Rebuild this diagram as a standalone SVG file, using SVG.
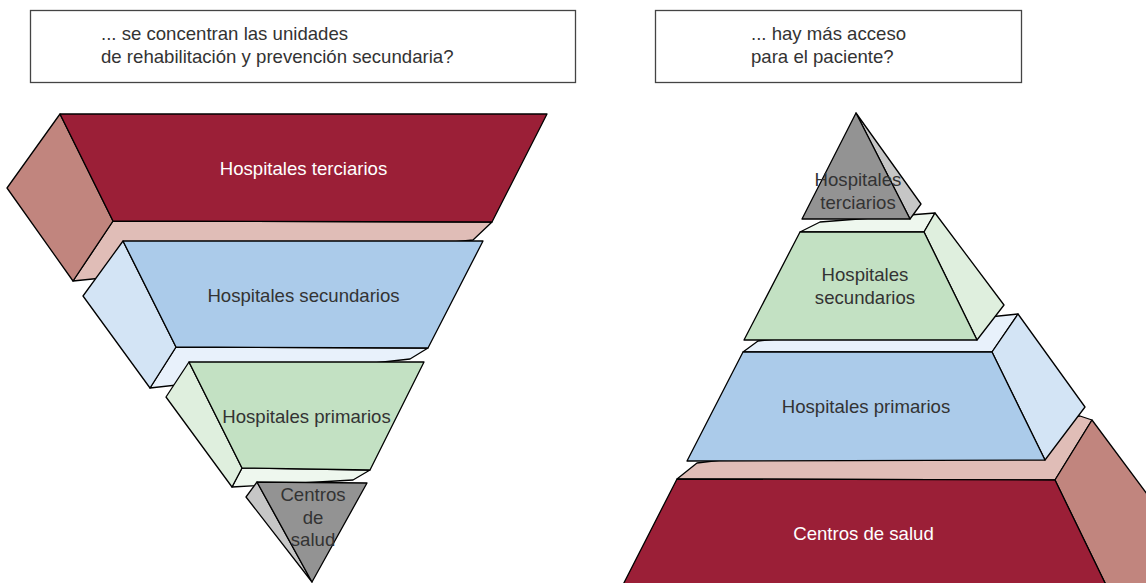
<svg xmlns="http://www.w3.org/2000/svg" width="1146" height="583" viewBox="0 0 1146 583">
  <style>
    .f { stroke: #000; stroke-width: 1.3; stroke-linejoin: round; }
    .red { fill: #9b1f37; }
    .redSide { fill: #c1857e; }
    .redCap { fill: #e0bdb7; }
    .blue { fill: #abcbea; }
    .blueSide { fill: #d3e4f5; }
    .blueCap { fill: #e8f1fb; }
    .green { fill: #c3e1c3; }
    .greenSide { fill: #dfefde; }
    .greenCap { fill: #eef7ee; }
    .gray { fill: #939393; }
    .graySide { fill: #c6c6c6; }
    .box { fill: #fff; stroke: #444; stroke-width: 1.3; }
    text { font-family: "Liberation Sans", Arial, sans-serif; font-size: 18.6px; fill: #333; }
    .c { text-anchor: middle; }
    .w { fill: #fff; }
  </style>

  <!-- question boxes -->
  <g id="q-left">
    <rect class="box" x="30.5" y="10.5" width="545" height="72"/>
    <text x="101" y="40">... se concentran las unidades</text>
    <text x="101" y="62.5">de rehabilitación y prevención secundaria?</text>
  </g>
  <g id="q-right">
    <rect class="box" x="655.5" y="10.5" width="366" height="72"/>
    <text x="751" y="40">... hay más acceso</text>
    <text x="751" y="62.5">para el paciente?</text>
  </g>

  <!-- inverted pyramid -->
  <g id="inv-terciarios">
    <polygon class="f redCap" points="113,221 492,222 473,240 73,281"/>
    <polygon class="f redSide" points="60,114 7,188 73,281 113,221"/>
    <polygon class="f red" points="60,114 547,114 492,222 113,221"/>
    <text class="c w" x="303.5" y="175">Hospitales terciarios</text>
  </g>
  <g id="inv-secundarios">
    <polygon class="f blueCap" points="176,347 428,348 410,359 150,388"/>
    <polygon class="f blueSide" points="123,241 83,296 150,388 176,347"/>
    <polygon class="f blue" points="123,241 483,241 428,348 176,347"/>
    <text class="c" x="303.5" y="301.5">Hospitales secundarios</text>
  </g>
  <g id="inv-primarios">
    <polygon class="f greenCap" points="242,468 370,470 353,480 232,487"/>
    <polygon class="f greenSide" points="189,362 166,397 232,487 242,468"/>
    <polygon class="f green" points="189,362 424,362 370,470 242,468"/>
    <text class="c" x="306.5" y="423">Hospitales primarios</text>
  </g>
  <g id="inv-centros">
    <polygon class="f graySide" points="257,482 246,497 312,582"/>
    <polygon class="f gray" points="257,482 367,483 312,582"/>
    <text class="c" x="313" y="501">Centros</text>
    <text class="c" x="313" y="523.5">de</text>
    <text class="c" x="313" y="546">salud</text>
  </g>

  <!-- upright pyramid -->
  <g id="pyr-centros">
    <polygon class="f redCap" points="677,479 697,463 1080,416 1092,420 1055,480"/>
    <polygon class="f redSide" points="1055,480 1092,420 1196,560 1196,620 1123,620"/>
    <polygon class="f red" points="677,479 1055,480 1123,620 605,620"/>
    <text class="c w" x="863.5" y="539.5">Centros de salud</text>
  </g>
  <g id="pyr-primarios">
    <polygon class="f blueCap" points="743,352 758,341 1018,314 992,352"/>
    <polygon class="f blueSide" points="992,352 1018,314 1085,407 1045,460"/>
    <polygon class="f blue" points="743,352 992,352 1045,460 687,461"/>
    <text class="c" x="866" y="413">Hospitales primarios</text>
  </g>
  <g id="pyr-secundarios">
    <polygon class="f greenCap" points="800,232 820,222 935,213 924,232"/>
    <polygon class="f greenSide" points="924,232 935,213 1004,305 977,340"/>
    <polygon class="f green" points="800,232 924,232 977,340 744,340"/>
    <text class="c" x="865" y="281">Hospitales</text>
    <text class="c" x="865" y="303.5">secundarios</text>
  </g>
  <g id="pyr-terciarios">
    <polygon class="f graySide" points="856,113 921,204 910,219"/>
    <polygon class="f gray" points="856,113 910,219 802,219"/>
    <text class="c" x="858" y="186">Hospitales</text>
    <text class="c" x="858" y="208.5">terciarios</text>
  </g>
</svg>
